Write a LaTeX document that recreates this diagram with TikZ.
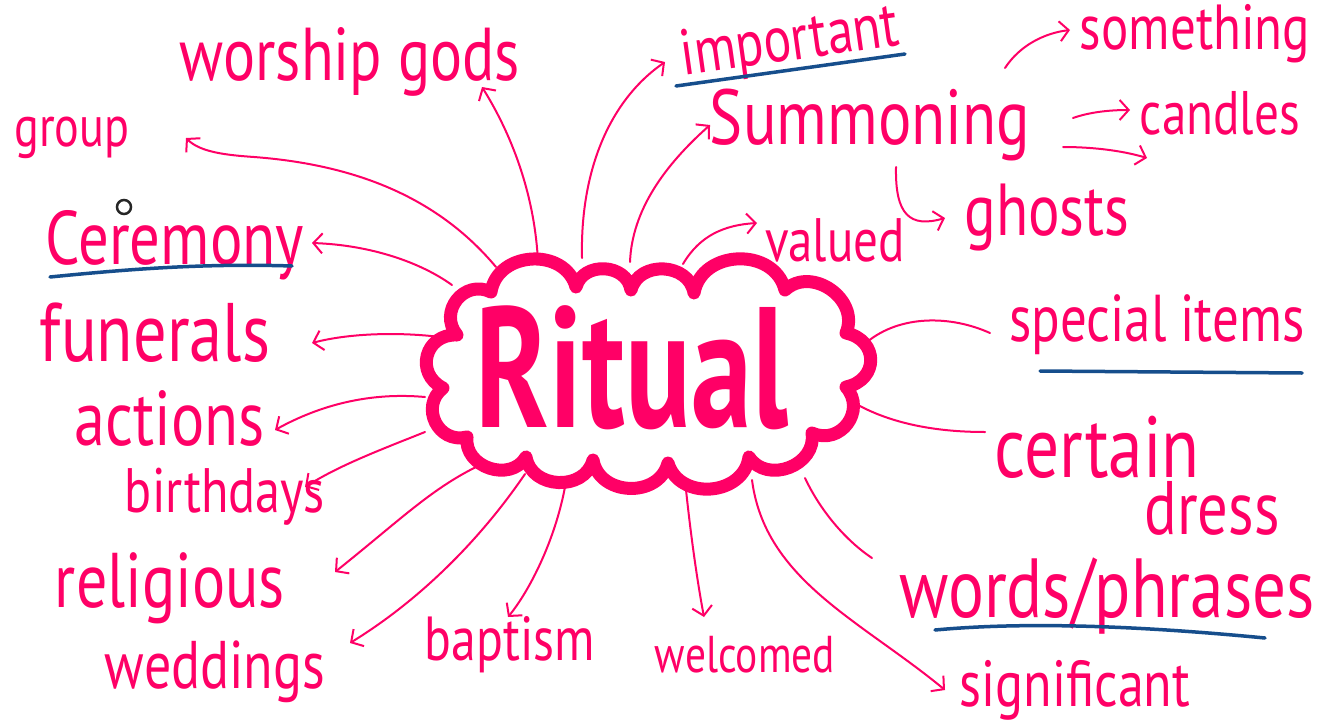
\documentclass[tikz,border=0pt]{standalone}
\usepackage{fontspec}
\setmainfont{PT Sans}
\usetikzlibrary{arrows.meta}
\definecolor{pk}{RGB}{255,0,102}
\definecolor{ub}{RGB}{22,78,140}
\newcommand{\hw}[2]{\scalebox{1}[1.25]{\resizebox{#1pt}{!}{#2}}}
\tikzset{
  lbl/.style={text=pk, inner sep=0pt, anchor=center},
  conn/.style={draw=pk, line width=2pt, line cap=round},
  arr/.style={conn, -{Straight Barb[length=9pt,width=20pt]}},
  uline/.style={draw=ub, line width=3.5pt, line cap=round},
  cloudline/.style={draw=pk, line width=13pt, line join=round, line cap=round},
  bump/.style={bend left=78, looseness=1.25},
}
\begin{document}
\begin{tikzpicture}[x=1pt,y=-1pt]
\useasboundingbox (0,0) rectangle (1321,725);
\fill[white] (0,0) rectangle (1321,725);

% cloud cusps
\coordinate (P) at (457,335);
\coordinate (B) at (491,292);
\coordinate (C) at (576,287);
\coordinate (D) at (631,290);
\coordinate (E) at (694,293);
\coordinate (F) at (785,290);
\coordinate (G) at (846,333);
\coordinate (H) at (846,387);
\coordinate (I) at (812,433);
\coordinate (J) at (749,457);
\coordinate (K) at (668,463);
\coordinate (L) at (593,460);
\coordinate (M) at (526,457);
\coordinate (N) at (467,437);
\coordinate (O) at (443,388);
\draw[cloudline] (P) to[bump, looseness=1.4] (B) to[bump] (C) to[bump] (D) to[bump] (E)
  to[bump] (F) to[bump] (G) to[bump, looseness=1.6] (H) to[bump, looseness=1.4] (I)
  to[bump] (J) to[bump] (K) to[bump] (L) to[bump] (M) to[bump] (N)
  to[bump, looseness=1.4] (O) to[bump, looseness=1.5] (P) -- cycle;

% labels
\node[lbl] (ritual) at (632,368) {\scalebox{1}[1.4]{\resizebox{312pt}{!}{\bfseries Ritual}}};
\node[lbl] (worship) at (350,62) {\hw{340}{worship gods}};
\node[lbl] (group) at (72,138) {\hw{115}{group}};
\node[lbl] (ceremony) at (175,245) {\hw{258}{Ceremony}};
\node[lbl] (funerals) at (155,333) {\hw{230}{funerals}};
\node[lbl] (actions) at (170,418) {\hw{190}{actions}};
\node[lbl] (birthdays) at (225,497) {\hw{200}{birthdays}};
\node[lbl] (religious) at (170,588) {\hw{230}{religious}};
\node[lbl] (weddings) at (215,672) {\hw{220}{weddings}};
\node[lbl] (baptism) at (510,645) {\hw{170}{baptism}};
\node[lbl] (welcomed) at (745,655) {\hw{180}{welcomed}};
\node[lbl] (significant) at (1075,690) {\hw{230}{significant}};
\node[lbl] (words) at (1107,596) {\hw{415}{words/phrases}};
\node[lbl] (certain) at (1097,447) {\hw{205}{certain}};
\node[lbl] (dress) at (1212,508) {\hw{135}{dress}};
\node[lbl] (special) at (1157,325) {\hw{295}{special items}};
\node[lbl] (valued) at (835,240) {\hw{140}{valued}};
\node[lbl] (ghosts) at (1047,218) {\hw{165}{ghosts}};
\node[lbl] (summoning) at (870,125) {\hw{320}{Summoning}};
\node[lbl, rotate=8] (important) at (790,44) {\hw{220}{important}};
\node[lbl] (something) at (1195,34) {\hw{230}{something}};
\node[lbl] (candles) at (1220,113) {\hw{160}{candles}};

% small black circle
\node[draw=black!85, line width=2.5pt, circle, minimum size=14pt, inner sep=0pt] (dot) at (124,207) {};

% underlines
\draw[uline] (50,277) .. controls (120,270) and (200,263) .. (292,266);
\draw[uline] (676,86) -- (905,54);
\draw[uline] (1040,371) -- (1302,373);
\draw[uline] (935,630) .. controls (1000,624) and (1100,622) .. (1265,638);

% connector endpoints
\coordinate (s1) at (496,267);  \coordinate (t1) at (186,138);
\coordinate (s2) at (538,262);  \coordinate (t2) at (482,87);
\coordinate (s3) at (582,258);  \coordinate (t3) at (665,62);
\coordinate (s4) at (630,262);  \coordinate (t4) at (710,125);
\coordinate (s5) at (683,264);  \coordinate (t5) at (757,223);
\coordinate (s6) at (452,285);  \coordinate (t6) at (312,243);
\coordinate (s7) at (440,337);  \coordinate (t7) at (312,343);
\coordinate (s8) at (425,397);  \coordinate (t8) at (275,430);
\coordinate (s9) at (425,432);  \coordinate (t9) at (305,487);
\coordinate (s10) at (476,467); \coordinate (t10) at (335,572);
\coordinate (s11) at (525,474); \coordinate (t11) at (350,643);
\coordinate (s12) at (565,487); \coordinate (t12) at (508,617);
\coordinate (s13) at (685,480); \coordinate (t13) at (704,617);
\coordinate (s14) at (752,480); \coordinate (t14) at (945,690);
\coordinate (s15) at (805,478); \coordinate (t15) at (872,558);
\coordinate (s16) at (858,405); \coordinate (t16) at (985,432);
\coordinate (s17) at (867,342); \coordinate (t17) at (990,333);
\coordinate (s18) at (1005,68); \coordinate (t18) at (1070,30);
\coordinate (s19) at (1073,118); \coordinate (t19) at (1130,110);
\coordinate (s20) at (1063,147); \coordinate (t20) at (1147,158);
\coordinate (s21) at (896,167); \coordinate (t21) at (945,218);

% connectors
\draw[arr] (s1) .. controls (440,200) and (360,165) .. (254,157) .. controls (225,155) and (200,152) .. (t1);
\draw[arr] (s2) .. controls (535,200) and (515,140) .. (t2);
\draw[arr] (s3) .. controls (580,170) and (610,100) .. (t3);
\draw[arr] (s4) .. controls (632,210) and (665,165) .. (t4);
\draw[arr] (s5) .. controls (700,235) and (725,225) .. (t5);
\draw[arr] (s6) .. controls (420,262) and (370,245) .. (t6);
\draw[arr] (s7) .. controls (400,332) and (350,333) .. (t7);
\draw[arr] (s8) .. controls (370,392) and (320,405) .. (t8);
\draw[arr] (s9) .. controls (380,450) and (340,465) .. (t9);
\draw[arr] (s10) .. controls (430,490) and (400,520) .. (t10);
\draw[arr] (s11) .. controls (480,540) and (420,600) .. (t11);
\draw[arr] (s12) .. controls (555,540) and (530,590) .. (t12);
\draw[arr] (s13) .. controls (690,530) and (697,580) .. (t13);
\draw[arr] (s14) .. controls (765,580) and (860,620) .. (t14);
\draw[conn] (s15) .. controls (820,510) and (845,540) .. (t15);
\draw[conn] (s16) .. controls (895,425) and (940,432) .. (t16);
\draw[conn] (s17) .. controls (900,315) and (950,315) .. (t17);
\draw[arr] (s18) .. controls (1020,45) and (1045,33) .. (t18);
\draw[arr] (s19) .. controls (1090,112) and (1110,110) .. (t19);
\draw[arr] (s20) .. controls (1090,147) and (1120,150) .. (t20);
\draw[arr] (s21) .. controls (895,215) and (910,228) .. (t21);
\end{tikzpicture}
\end{document}
